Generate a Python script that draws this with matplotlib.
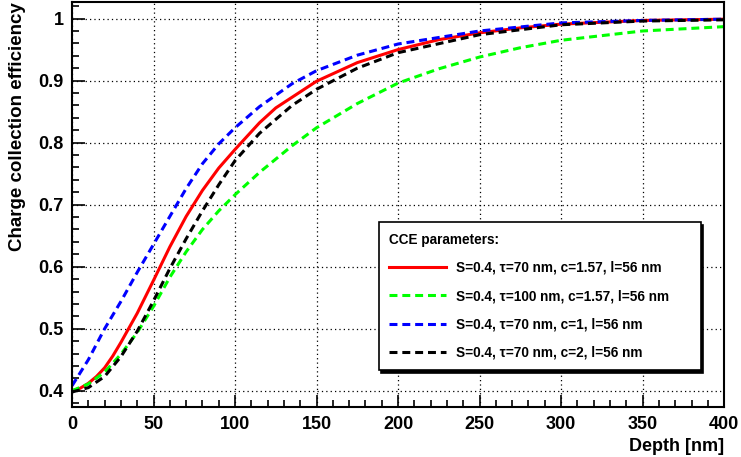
import matplotlib
matplotlib.use("Agg")
import matplotlib.pyplot as plt
from matplotlib.ticker import MultipleLocator

plt.rcParams['font.family'] = ['Liberation Sans', 'DejaVu Sans']
plt.rcParams['font.weight'] = 'bold'

# values
depth_red = [0, 5, 10, 15, 20, 25, 30, 40, 50, 60, 70, 80, 90, 100, 115, 125, 150, 175, 200, 225, 250, 275, 300, 350, 400]
cce_red = [0.400, 0.404, 0.412, 0.423, 0.437, 0.456, 0.478, 0.525, 0.578, 0.632, 0.681, 0.723, 0.759, 0.789,
           0.832, 0.856, 0.899, 0.929, 0.950, 0.966, 0.977, 0.985, 0.991, 0.997, 0.999]

depth_green = [0, 10, 20, 30, 40, 50, 60, 70, 80, 90, 100, 115, 135, 150, 175, 200, 225, 250, 275, 300, 350, 400]
cce_green = [0.400, 0.411, 0.430, 0.459, 0.494, 0.536, 0.583, 0.624, 0.660, 0.690, 0.716, 0.752, 0.795,
             0.824, 0.863, 0.896, 0.919, 0.938, 0.953, 0.965, 0.980, 0.987]

depth_blue = [0, 10, 20, 30, 40, 50, 60, 70, 80, 90, 100, 115, 135, 150, 175, 200, 250, 300, 350, 400]
cce_blue = [0.408, 0.450, 0.500, 0.544, 0.591, 0.636, 0.681, 0.726, 0.766, 0.798, 0.824, 0.858, 0.895,
            0.916, 0.941, 0.959, 0.980, 0.993, 0.997, 0.999]

depth_black = [0, 10, 20, 30, 40, 50, 60, 70, 80, 90, 100, 115, 135, 150, 175, 200, 250, 300, 350, 400]
cce_black = [0.398, 0.405, 0.423, 0.455, 0.496, 0.545, 0.597, 0.645, 0.690, 0.732, 0.771, 0.815, 0.860,
             0.886, 0.920, 0.945, 0.974, 0.990, 0.996, 0.998]

labels = ['S=0.4, τ=70 nm, c=1.57, l=56 nm',
          'S=0.4, τ=100 nm, c=1.57, l=56 nm',
          'S=0.4, τ=70 nm, c=1, l=56 nm',
          'S=0.4, τ=70 nm, c=2, l=56 nm']

fig = plt.figure(figsize=(7.41, 4.57), dpi=100)
ax = fig.add_axes([0.0972, 0.109, 0.88, 0.887])

dash = (2.6, 1.6)
ax.plot(depth_red, cce_red, color='#ff0000', lw=2.2, label=labels[0])
ax.plot(depth_green, cce_green, color='#00ff00', lw=2.2, dashes=dash, label=labels[1])
ax.plot(depth_blue, cce_blue, color='#0000ff', lw=2.2, dashes=dash, label=labels[2])
ax.plot(depth_black, cce_black, color='black', lw=2.2, dashes=dash, label=labels[3])

ax.set_xlim(0, 400)
ax.set_ylim(0.3735, 1.027)
ax.xaxis.set_major_locator(MultipleLocator(50))
ax.xaxis.set_minor_locator(MultipleLocator(10))
ax.yaxis.set_minor_locator(MultipleLocator(0.02))
ax.set_yticks([0.4, 0.5, 0.6, 0.7, 0.8, 0.9, 1.0])
ax.set_yticklabels(['0.4', '0.5', '0.6', '0.7', '0.8', '0.9', '1'])

ax.tick_params(which='both', direction='in', top=False, right=False, labelsize=13)
ax.tick_params(which='major', length=9, width=1.2, pad=6)
ax.tick_params(which='minor', length=5, width=1.2)
for s in ax.spines.values():
    s.set_linewidth(1.5)

ax.grid(True, which='major', color='black', linestyle=(0, (1, 2.5)), linewidth=0.9)
ax.set_axisbelow(True)

ax.set_xlabel('Depth [nm]', fontsize=13, fontweight='bold', loc='right', labelpad=4)
ax.set_ylabel('Charge collection efficiency', fontsize=13.5, fontweight='bold', loc='top', labelpad=9)

# legend box stretched to the reference width
leg = ax.legend(loc='upper left', bbox_to_anchor=(0.470, 0.096, 0.494, 0.36), mode='expand',
                bbox_transform=ax.transAxes,
                borderaxespad=0, title='CCE parameters:', alignment='left', fontsize=9.8,
                title_fontproperties={'weight': 'bold', 'size': 9.8},
                frameon=True, fancybox=False, shadow={'color': 'black', 'alpha': 1},
                edgecolor='black', framealpha=1, borderpad=0.75, labelspacing=1.05,
                handlelength=4.2, handletextpad=0.75)
leg.get_frame().set_linewidth(1.2)
leg.set_zorder(10)
for t in leg.get_texts():
    t.set_fontweight('bold')

fig.savefig('out.png', dpi=100)
